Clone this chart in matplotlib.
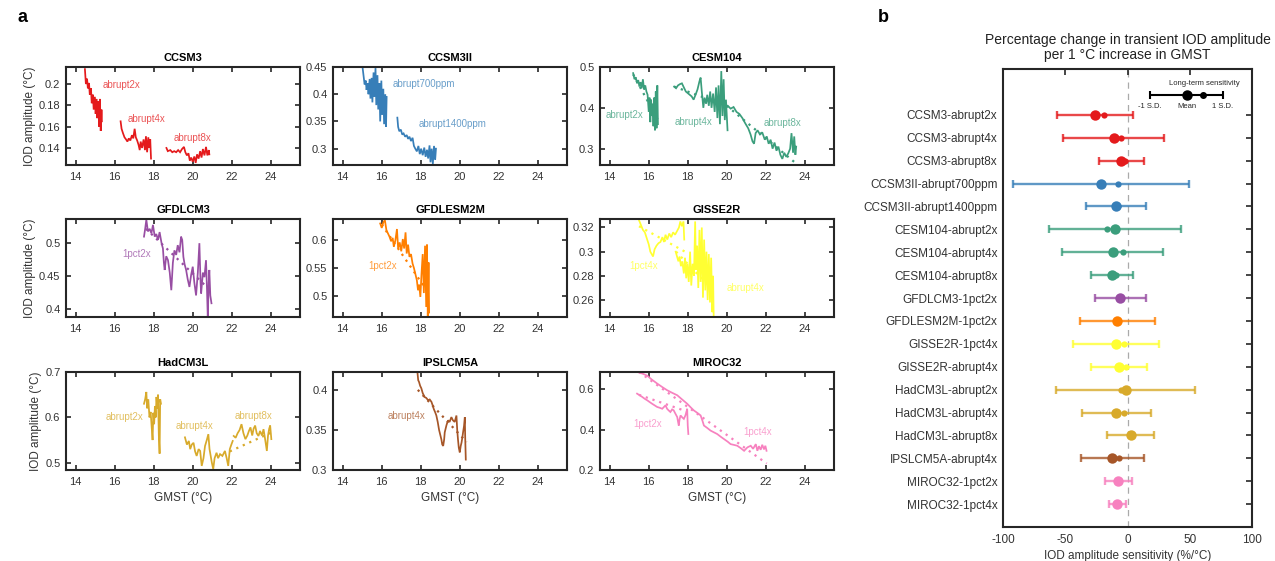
import matplotlib
matplotlib.use('Agg')
import matplotlib.pyplot as plt
from matplotlib.ticker import FormatStrFormatter

plt.rcParams['font.family'] = ['Liberation Sans', 'DejaVu Sans']
plt.rcParams['axes.unicode_minus'] = False

# ─── Farben je Modell ─────────────────────────────────────────────────────────
C_CCSM3   = '#e41a1c'
C_CCSM3II = '#377eb8'
C_CESM    = '#3b9e7c'
C_GFDLCM3 = '#984ea3'
C_GFDLESM = '#ff7f00'
C_GISS    = '#ffff33'
C_HAD     = '#d8aa2b'
C_IPSL    = '#a65628'
C_MIROC   = '#f781bf'
INK       = '#262626'

# ─── Panel a: Kurven (GMST, IOD-Amplitude) ────────────────────────────────────
CCSM3_2X = [(14.47, 0.214), (14.52, 0.200), (14.58, 0.205), (14.62, 0.196), (14.68, 0.201),
            (14.72, 0.190), (14.78, 0.196), (14.82, 0.182), (14.88, 0.190), (14.92, 0.176),
            (14.98, 0.188), (15.02, 0.172), (15.06, 0.186), (15.10, 0.168), (15.15, 0.184),
            (15.20, 0.160), (15.24, 0.186), (15.28, 0.156), (15.32, 0.176), (15.34, 0.165)]
CCSM3_4X = [(16.30, 0.165), (16.35, 0.158), (16.42, 0.154), (16.50, 0.150), (16.58, 0.148),
            (16.65, 0.146), (16.72, 0.149), (16.80, 0.147), (16.88, 0.152), (16.95, 0.149),
            (17.02, 0.158), (17.08, 0.150), (17.15, 0.147), (17.22, 0.143), (17.28, 0.138),
            (17.33, 0.146), (17.40, 0.140), (17.48, 0.148), (17.55, 0.138), (17.60, 0.151),
            (17.66, 0.136), (17.72, 0.150), (17.78, 0.140), (17.82, 0.148), (17.86, 0.130)]
CCSM3_8X = [(18.65, 0.140), (18.72, 0.137), (18.85, 0.138), (18.95, 0.136), (19.05, 0.137),
            (19.15, 0.136), (19.25, 0.138), (19.35, 0.136), (19.45, 0.139), (19.55, 0.141),
            (19.62, 0.136), (19.70, 0.133), (19.78, 0.135), (19.85, 0.128), (19.92, 0.131),
            (20.00, 0.127), (20.08, 0.132), (20.15, 0.126), (20.22, 0.134), (20.30, 0.130),
            (20.38, 0.137), (20.45, 0.131), (20.52, 0.139), (20.60, 0.133), (20.68, 0.141),
            (20.75, 0.133), (20.82, 0.138), (20.85, 0.134)]

CCSM3II_700 = [(15.02, 0.448), (15.08, 0.430), (15.12, 0.418), (15.18, 0.425), (15.22, 0.408),
               (15.28, 0.420), (15.32, 0.400), (15.38, 0.428), (15.42, 0.392), (15.48, 0.430),
               (15.52, 0.385), (15.58, 0.440), (15.62, 0.395), (15.68, 0.448), (15.72, 0.380),
               (15.78, 0.435), (15.82, 0.372), (15.88, 0.420), (15.92, 0.350), (15.98, 0.425),
               (16.02, 0.362), (16.08, 0.410), (16.12, 0.345), (16.18, 0.400), (16.22, 0.340),
               (16.25, 0.395)]
CCSM3II_1400 = [(16.80, 0.357), (16.84, 0.340), (16.90, 0.332), (16.98, 0.335), (17.05, 0.326),
                (17.12, 0.328), (17.20, 0.322), (17.28, 0.325), (17.35, 0.318), (17.42, 0.322),
                (17.50, 0.314), (17.58, 0.320), (17.65, 0.305), (17.72, 0.300), (17.80, 0.295),
                (17.88, 0.305), (17.95, 0.290), (18.02, 0.300), (18.10, 0.288), (18.18, 0.302),
                (18.25, 0.285), (18.32, 0.298), (18.38, 0.282), (18.45, 0.306), (18.50, 0.275),
                (18.56, 0.300), (18.62, 0.272), (18.68, 0.305), (18.74, 0.280), (18.78, 0.300)]

CESM_2X = [(15.20, 0.485), (15.27, 0.470), (15.33, 0.475), (15.40, 0.460), (15.46, 0.468),
           (15.52, 0.452), (15.58, 0.463), (15.64, 0.448), (15.70, 0.470), (15.76, 0.445),
           (15.82, 0.455), (15.88, 0.440), (15.94, 0.432), (16.00, 0.390), (16.04, 0.425),
           (16.08, 0.365), (16.12, 0.420), (16.16, 0.380), (16.20, 0.410), (16.24, 0.355),
           (16.28, 0.425), (16.32, 0.345), (16.36, 0.440), (16.40, 0.350), (16.44, 0.455),
           (16.47, 0.360)]
CESM_4X = [(17.30, 0.452), (17.40, 0.448), (17.50, 0.455), (17.60, 0.458), (17.70, 0.460),
           (17.80, 0.450), (17.90, 0.440), (18.00, 0.436), (18.10, 0.432), (18.20, 0.428),
           (18.30, 0.420), (18.40, 0.432), (18.50, 0.445), (18.60, 0.465), (18.66, 0.474),
           (18.72, 0.440), (18.80, 0.400), (18.86, 0.425), (18.94, 0.410), (19.00, 0.432),
           (19.08, 0.405), (19.15, 0.440), (19.22, 0.400), (19.30, 0.435), (19.38, 0.390),
           (19.45, 0.450), (19.52, 0.375), (19.58, 0.455), (19.65, 0.360), (19.72, 0.490),
           (19.78, 0.380), (19.84, 0.470), (19.90, 0.370), (19.96, 0.420), (20.04, 0.345)]
CESM_8X = [(20.05, 0.405), (20.20, 0.398), (20.35, 0.402), (20.50, 0.390), (20.65, 0.385),
           (20.80, 0.375), (20.95, 0.362), (21.10, 0.350), (21.22, 0.335), (21.32, 0.318),
           (21.40, 0.312), (21.48, 0.338), (21.58, 0.345), (21.70, 0.335), (21.82, 0.340),
           (21.95, 0.322), (22.05, 0.330), (22.15, 0.312), (22.25, 0.322), (22.35, 0.300),
           (22.45, 0.315), (22.55, 0.295), (22.65, 0.305), (22.75, 0.285), (22.85, 0.275),
           (22.95, 0.290), (23.05, 0.280), (23.15, 0.288), (23.25, 0.300), (23.32, 0.338),
           (23.40, 0.290), (23.46, 0.330), (23.52, 0.285), (23.56, 0.305)]

GFDLCM3_2X = [(17.50, 0.510), (17.56, 0.522), (17.62, 0.536), (17.70, 0.518), (17.79, 0.522),
              (17.88, 0.515), (17.96, 0.528), (18.05, 0.510), (18.13, 0.514), (18.22, 0.505),
              (18.30, 0.517), (18.40, 0.500), (18.47, 0.492), (18.52, 0.470), (18.56, 0.459),
              (18.64, 0.480), (18.73, 0.474), (18.82, 0.455), (18.90, 0.428), (18.98, 0.470),
              (19.06, 0.489), (19.15, 0.482), (19.23, 0.497), (19.32, 0.486), (19.40, 0.510),
              (19.46, 0.505), (19.52, 0.479), (19.58, 0.468), (19.66, 0.459), (19.74, 0.445),
              (19.83, 0.433), (19.92, 0.452), (20.00, 0.464), (20.08, 0.440), (20.17, 0.420),
              (20.26, 0.455), (20.34, 0.500), (20.40, 0.440), (20.43, 0.423), (20.52, 0.455),
              (20.60, 0.448), (20.68, 0.474), (20.73, 0.430), (20.77, 0.387), (20.82, 0.440),
              (20.85, 0.459), (20.90, 0.420), (20.96, 0.408)]

GFDLESM_2X = [(15.92, 0.630), (16.00, 0.622), (16.08, 0.632), (16.16, 0.636), (16.24, 0.618),
              (16.32, 0.612), (16.40, 0.606), (16.48, 0.598), (16.56, 0.604), (16.62, 0.588),
              (16.70, 0.600), (16.78, 0.620), (16.84, 0.585), (16.92, 0.596), (17.00, 0.580),
              (17.08, 0.602), (17.15, 0.585), (17.22, 0.614), (17.28, 0.576), (17.35, 0.592),
              (17.42, 0.570), (17.50, 0.575), (17.58, 0.558), (17.65, 0.550), (17.72, 0.540),
              (17.80, 0.528), (17.86, 0.510), (17.92, 0.520), (17.98, 0.498), (18.04, 0.540),
              (18.10, 0.575), (18.16, 0.505), (18.22, 0.590), (18.28, 0.480), (18.32, 0.592),
              (18.36, 0.462), (18.40, 0.560), (18.43, 0.470)]

GISS_1PCT4X = [(15.50, 0.326), (15.60, 0.322), (15.70, 0.318), (15.80, 0.316), (15.90, 0.311),
               (16.00, 0.306), (16.08, 0.300), (16.15, 0.298), (16.22, 0.296), (16.30, 0.302),
               (16.40, 0.305), (16.50, 0.307), (16.60, 0.308), (16.70, 0.312), (16.78, 0.308),
               (16.86, 0.314), (16.95, 0.310), (17.05, 0.315), (17.15, 0.312), (17.25, 0.316),
               (17.35, 0.314), (17.45, 0.317), (17.55, 0.320), (17.62, 0.325), (17.70, 0.321),
               (17.78, 0.325), (17.82, 0.310)]
GISS_4X = [(17.38, 0.300), (17.45, 0.296), (17.52, 0.292), (17.58, 0.296), (17.65, 0.288),
           (17.72, 0.292), (17.80, 0.282), (17.86, 0.295), (17.92, 0.278), (17.98, 0.290),
           (18.05, 0.275), (18.12, 0.300), (18.18, 0.272), (18.25, 0.290), (18.32, 0.280),
           (18.38, 0.325), (18.42, 0.285), (18.48, 0.305), (18.54, 0.270), (18.60, 0.318),
           (18.66, 0.275), (18.72, 0.320), (18.78, 0.262), (18.84, 0.310), (18.90, 0.268),
           (18.96, 0.300), (19.02, 0.260), (19.08, 0.298), (19.14, 0.258), (19.20, 0.295),
           (19.26, 0.250), (19.30, 0.280), (19.33, 0.246)]

HAD_2X = [(17.50, 0.630), (17.56, 0.640), (17.62, 0.656), (17.66, 0.620), (17.72, 0.640),
          (17.78, 0.600), (17.84, 0.612), (17.90, 0.575), (17.94, 0.550), (17.98, 0.610),
          (18.02, 0.585), (18.06, 0.625), (18.10, 0.600), (18.14, 0.645), (18.18, 0.620),
          (18.22, 0.650), (18.26, 0.560), (18.30, 0.520), (18.33, 0.640), (18.37, 0.630)]
HAD_4X = [(19.60, 0.556), (19.70, 0.540), (19.80, 0.548), (19.87, 0.530), (19.95, 0.540),
          (20.04, 0.544), (20.12, 0.525), (20.20, 0.515), (20.30, 0.530), (20.38, 0.526),
          (20.46, 0.493), (20.55, 0.510), (20.63, 0.537), (20.72, 0.550), (20.80, 0.563),
          (20.86, 0.530), (20.92, 0.515), (20.98, 0.500), (21.05, 0.486), (21.12, 0.510),
          (21.22, 0.522), (21.30, 0.510), (21.40, 0.519), (21.52, 0.515), (21.65, 0.526),
          (21.74, 0.510), (21.82, 0.493), (21.90, 0.530), (21.98, 0.540), (22.05, 0.548)]
HAD_8X = [(22.10, 0.559), (22.20, 0.555), (22.30, 0.565), (22.40, 0.572), (22.50, 0.585),
          (22.60, 0.565), (22.70, 0.552), (22.80, 0.560), (22.88, 0.570), (22.96, 0.578),
          (23.05, 0.560), (23.12, 0.575), (23.20, 0.582), (23.28, 0.565), (23.37, 0.559),
          (23.45, 0.570), (23.55, 0.560), (23.63, 0.574), (23.70, 0.555), (23.80, 0.526),
          (23.86, 0.560), (23.92, 0.575), (23.97, 0.582), (24.03, 0.552)]

IPSL_4X = [(17.83, 0.422), (17.87, 0.412), (17.91, 0.410), (17.97, 0.405), (18.03, 0.402),
           (18.10, 0.396), (18.20, 0.391), (18.28, 0.390), (18.38, 0.387), (18.46, 0.388),
           (18.55, 0.385), (18.62, 0.380), (18.67, 0.376), (18.74, 0.372), (18.80, 0.368),
           (18.87, 0.360), (18.94, 0.350), (19.00, 0.344), (19.06, 0.338), (19.10, 0.332),
           (19.15, 0.330), (19.20, 0.338), (19.23, 0.347), (19.32, 0.356), (19.40, 0.362),
           (19.48, 0.360), (19.57, 0.366), (19.65, 0.362), (19.74, 0.360), (19.83, 0.368),
           (19.87, 0.350), (19.91, 0.338), (19.95, 0.328), (20.00, 0.322), (20.05, 0.330),
           (20.09, 0.334), (20.13, 0.340), (20.17, 0.347), (20.22, 0.355), (20.26, 0.366),
           (20.28, 0.340), (20.31, 0.313)]

MIROC_1PCT4X = [(15.49, 0.683), (15.70, 0.676), (15.92, 0.667), (16.15, 0.648), (16.43, 0.628),
                (16.70, 0.610), (16.94, 0.595), (17.20, 0.582), (17.46, 0.570), (17.70, 0.550),
                (17.97, 0.528), (18.15, 0.510), (18.31, 0.495), (18.50, 0.482), (18.66, 0.470),
                (18.75, 0.445), (18.83, 0.420), (19.00, 0.408), (19.17, 0.395), (19.35, 0.386),
                (19.51, 0.378), (19.70, 0.364), (19.86, 0.353), (20.05, 0.340), (20.20, 0.328),
                (20.38, 0.324), (20.54, 0.320), (20.72, 0.308), (20.89, 0.295), (21.06, 0.312),
                (21.23, 0.320), (21.35, 0.305), (21.49, 0.328), (21.57, 0.295), (21.65, 0.318),
                (21.74, 0.300), (21.82, 0.325), (21.91, 0.302), (21.98, 0.320), (22.04, 0.295)]
MIROC_1PCT2X = [(15.40, 0.578), (15.53, 0.570), (15.66, 0.562), (15.80, 0.552), (15.92, 0.545),
                (16.05, 0.536), (16.17, 0.528), (16.30, 0.520), (16.43, 0.512), (16.56, 0.508),
                (16.69, 0.503), (16.78, 0.512), (16.86, 0.520), (16.94, 0.503), (17.02, 0.495),
                (17.11, 0.487), (17.20, 0.500), (17.28, 0.495), (17.36, 0.480), (17.46, 0.462),
                (17.50, 0.440), (17.54, 0.420), (17.58, 0.450), (17.63, 0.470), (17.72, 0.460),
                (17.80, 0.453), (17.88, 0.470), (17.94, 0.490), (17.97, 0.503), (18.00, 0.420),
                (18.03, 0.378)]

# Regressionsgeraden (gepunktet): Anfangs- und Endpunkt
TREND_CESM_2X     = [(15.20, 0.482), (16.45, 0.372)]
TREND_CESM_4X     = [(17.30, 0.452), (20.00, 0.405)]
TREND_CESM_8X     = [(20.00, 0.405), (23.60, 0.262)]
TREND_GFDLCM3     = [(17.60, 0.522), (21.00, 0.425)]
TREND_GFDLESM     = [(16.00, 0.628), (18.40, 0.505)]
TREND_GISS_1PCT4X = [(15.50, 0.321), (17.97, 0.299)]
TREND_GISS_4X     = [(17.40, 0.300), (19.30, 0.268)]
TREND_HAD_8X      = [(21.90, 0.525), (24.00, 0.566)]
TREND_IPSL        = [(17.85, 0.400), (20.35, 0.335)]
TREND_MIROC_2X    = [(15.50, 0.572), (18.00, 0.488)]
TREND_MIROC_4X    = [(15.50, 0.685), (22.05, 0.232)]

# (Titel, Farbe, y-Bereich, y-Ticks, Kurven mit Beschriftung, Trends)
PANELS = [
    ('CCSM3', C_CCSM3, (0.124, 0.216), [0.14, 0.16, 0.18, 0.2],
     [(CCSM3_2X, 'abrupt2x', (15.37, 0.199)),
      (CCSM3_4X, 'abrupt4x', (16.68, 0.1676)),
      (CCSM3_8X, 'abrupt8x', (19.03, 0.1494))], []),
    ('CCSM3II', C_CCSM3II, (0.27, 0.45), [0.3, 0.35, 0.4, 0.45],
     [(CCSM3II_700, 'abrupt700ppm', (16.56, 0.4185)),
      (CCSM3II_1400, 'abrupt1400ppm', (17.88, 0.345))], []),
    ('CESM104', C_CESM, (0.26, 0.5), [0.3, 0.4, 0.5],
     [(CESM_2X, 'abrupt2x', (13.78, 0.383)),
      (CESM_4X, 'abrupt4x', (17.34, 0.366)),
      (CESM_8X, 'abrupt8x', (21.87, 0.363))],
     [TREND_CESM_2X, TREND_CESM_4X, TREND_CESM_8X]),
    ('GFDLCM3', C_GFDLCM3, (0.387, 0.537), [0.4, 0.45, 0.5],
     [(GFDLCM3_2X, '1pct2x', (16.39, 0.4827))], [TREND_GFDLCM3]),
    ('GFDLESM2M', C_GFDLESM, (0.462, 0.638), [0.5, 0.55, 0.6],
     [(GFDLESM_2X, '1pct2x', (15.32, 0.553))], [TREND_GFDLESM]),
    ('GISSE2R', C_GISS, (0.246, 0.327), [0.26, 0.28, 0.3, 0.32],
     [(GISS_1PCT4X, '1pct4x', (14.98, 0.2885)),
      (GISS_4X, 'abrupt4x', (19.98, 0.2696))],
     [TREND_GISS_1PCT4X, TREND_GISS_4X]),
    ('HadCM3L', C_HAD, (0.484, 0.7), [0.5, 0.6, 0.7],
     [(HAD_2X, 'abrupt2x', (15.54, 0.6015)),
      (HAD_4X, 'abrupt4x', (19.13, 0.58)),
      (HAD_8X, 'abrupt8x', (22.15, 0.604))], [TREND_HAD_8X]),
    ('IPSLCM5A', C_IPSL, (0.3, 0.4223), [0.3, 0.35, 0.4],
     [(IPSL_4X, 'abrupt4x', (16.31, 0.3668))], [TREND_IPSL]),
    ('MIROC32', C_MIROC, (0.2, 0.685), [0.2, 0.4, 0.6],
     [(MIROC_1PCT2X, '1pct2x', (15.23, 0.428)),
      (MIROC_1PCT4X, '1pct4x', (20.87, 0.39))],
     [TREND_MIROC_2X, TREND_MIROC_4X]),
]
GMST_TICKS = [14, 16, 18, 20, 22, 24]

# ─── Panel b: Sensitivitaet (%/°C) ────────────────────────────────────────────
RUNS = ['CCSM3-abrupt2x', 'CCSM3-abrupt4x', 'CCSM3-abrupt8x',
        'CCSM3II-abrupt700ppm', 'CCSM3II-abrupt1400ppm',
        'CESM104-abrupt2x', 'CESM104-abrupt4x', 'CESM104-abrupt8x',
        'GFDLCM3-1pct2x', 'GFDLESM2M-1pct2x',
        'GISSE2R-1pct4x', 'GISSE2R-abrupt4x',
        'HadCM3L-abrupt2x', 'HadCM3L-abrupt4x', 'HadCM3L-abrupt8x',
        'IPSLCM5A-abrupt4x', 'MIROC32-1pct2x', 'MIROC32-1pct4x']
RUN_COLORS = [C_CCSM3] * 3 + [C_CCSM3II] * 2 + [C_CESM] * 3 + [C_GFDLCM3, C_GFDLESM] + \
             [C_GISS] * 2 + [C_HAD] * 3 + [C_IPSL] + [C_MIROC] * 2
MEAN     = [-26.4, -10.8, -5.0, -21.3, -9.0, -10.0, -11.8, -12.4, -5.8,
            -8.2, -9.5, -7.1, -1.5, -9.0, 2.6, -12.1, -7.9, -8.2]
LONGTERM = [-19.2, -5.5, -1.8, -7.4, -7.4, -16.3, -3.9, -9.2, -5.0,
            -7.5, -2.8, -1.5, -5.5, -2.8, 2.6, -7.1, -7.9, -8.2]
SD_LO    = [-56.9, -52.1, -22.9, -91.7, -33.1, -62.8, -52.9, -29.7, -26.5,
            -38.5, -44.0, -29.2, -57.7, -36.8, -16.5, -37.7, -17.7, -14.7]
SD_HI    = [4.2, 29.3, 13.3, 49.1, 14.6, 42.9, 28.5, 4.7, 14.6,
            22.2, 24.9, 15.4, 54.2, 18.6, 21.4, 13.4, 3.6, -1.2]
# Legendenbeispiel (schwarz)
KEY_MEAN, KEY_LT, KEY_LO, KEY_HI = 48.0, 60.4, 18.1, 76.5

# ─── Figur ────────────────────────────────────────────────────────────────────
fig = plt.figure(figsize=(12.75, 5.61), dpi=100)

COL_LEFT = [66, 333, 600]
ROW_TOP = [67, 219, 372]
W_PX, H_PX = 234, 98
FW, FH = 1275, 561


def style_axes(ax):
    for s in ax.spines.values():
        s.set_color(INK)
        s.set_linewidth(1.5)
    ax.tick_params(direction='in', length=3.5, width=1.2, colors=INK,
                   labelsize=8, labelcolor='#333333')


for i, (title, col, ylim, yticks, segs, trends) in enumerate(PANELS):
    r, c = divmod(i, 3)
    ax = fig.add_axes([COL_LEFT[c] / FW, 1 - (ROW_TOP[r] + H_PX) / FH, W_PX / FW, H_PX / FH])
    for pts, lab, (tx, ty) in segs:
        xs = [p[0] for p in pts]
        ys = [p[1] for p in pts]
        ax.plot(xs, ys, color=col, lw=1.25, solid_joinstyle='miter')
        ax.text(tx, ty, lab, color=col, alpha=0.75, fontsize=7, va='center', ha='left')
    for tr in trends:
        ax.plot([p[0] for p in tr], [p[1] for p in tr], color=col, lw=1.6,
                linestyle=(0, (1, 2.2)))
    ax.set_xlim(13.5, 25.5)
    ax.set_ylim(*ylim)
    ax.set_xticks(GMST_TICKS)
    ax.set_yticks(yticks)
    ax.yaxis.set_major_formatter(FormatStrFormatter('%g'))
    style_axes(ax)
    ax.tick_params(top=True, right=True)
    ax.tick_params(axis='x', pad=5)
    ax.tick_params(axis='y', pad=4)
    ax.set_title(title, fontsize=8, fontweight='bold', pad=4, color='black')
    if c == 0:
        ax.set_ylabel('IOD amplitude (°C)', fontsize=8.5, color='#333333', labelpad=2)
    if r == 2:
        ax.set_xlabel('GMST (°C)', fontsize=8.5, color='#333333', labelpad=4)

# Panel b
axb = fig.add_axes([1003 / FW, 1 - 527 / FH, 249 / FW, 458 / FH])
ypos = list(range(2, 2 + len(RUNS)))
axb.axvline(0, color='#aaaaaa', lw=0.9, ls=(0, (5, 4)), zorder=0)
for y, col, m, lt, lo, hi in zip(ypos, RUN_COLORS, MEAN, LONGTERM, SD_LO, SD_HI):
    axb.errorbar(m, y, xerr=[[m - lo], [hi - m]], fmt='none', ecolor=col, alpha=0.8,
                 elinewidth=1.7, capsize=3, capthick=1.7)
    axb.plot(m, y, 'o', ms=7.5, color=col, mec='none')
    axb.plot(lt, y, 'o', ms=4.5, color=col, mec='none')

# Legendenbeispiel
key_y = 1.13
axb.errorbar(KEY_MEAN, key_y, xerr=[[KEY_MEAN - KEY_LO], [KEY_HI - KEY_MEAN]], fmt='none',
             ecolor='black', elinewidth=1.5, capsize=3, capthick=1.5)
axb.plot(KEY_MEAN, key_y, 'o', ms=6.5, color='black')
axb.plot(KEY_LT, key_y, 'o', ms=4, color='black')
axb.text(62, 0.65, 'Long-term sensitivity', fontsize=5.5, ha='center', va='center', color=INK)
axb.text(KEY_LO, 1.62, '-1 S.D.', fontsize=5.5, ha='center', va='center', color=INK)
axb.text(KEY_MEAN, 1.62, 'Mean', fontsize=5.5, ha='center', va='center', color=INK)
axb.text(KEY_HI, 1.62, '1 S.D.', fontsize=5.5, ha='center', va='center', color=INK)

axb.set_xlim(-100, 100)
axb.set_ylim(20, 0)
axb.set_xticks([-100, -50, 0, 50, 100])
axb.set_yticks(ypos)
axb.set_yticklabels(RUNS)
style_axes(axb)
axb.tick_params(axis='y', left=False, right=True, labelleft=True, length=4.5, labelsize=8.5, pad=4)
axb.tick_params(axis='x', bottom=False, top=True, labelbottom=True, length=4.5, labelsize=8.5, pad=5)
axb.set_xlabel('IOD amplitude sensitivity (%/°C)', fontsize=8.5, color='#333333', labelpad=3)
axb.set_title('Percentage change in transient IOD amplitude\nper 1 °C increase in GMST',
              fontsize=10, pad=7, color='#222222', linespacing=1.1)

fig.text(18 / FW, 1 - 18 / FH, 'a', fontsize=13, fontweight='bold', va='center', ha='left')
fig.text(878 / FW, 1 - 18 / FH, 'b', fontsize=13, fontweight='bold', va='center', ha='left')

fig.savefig('out.png', dpi=100)
